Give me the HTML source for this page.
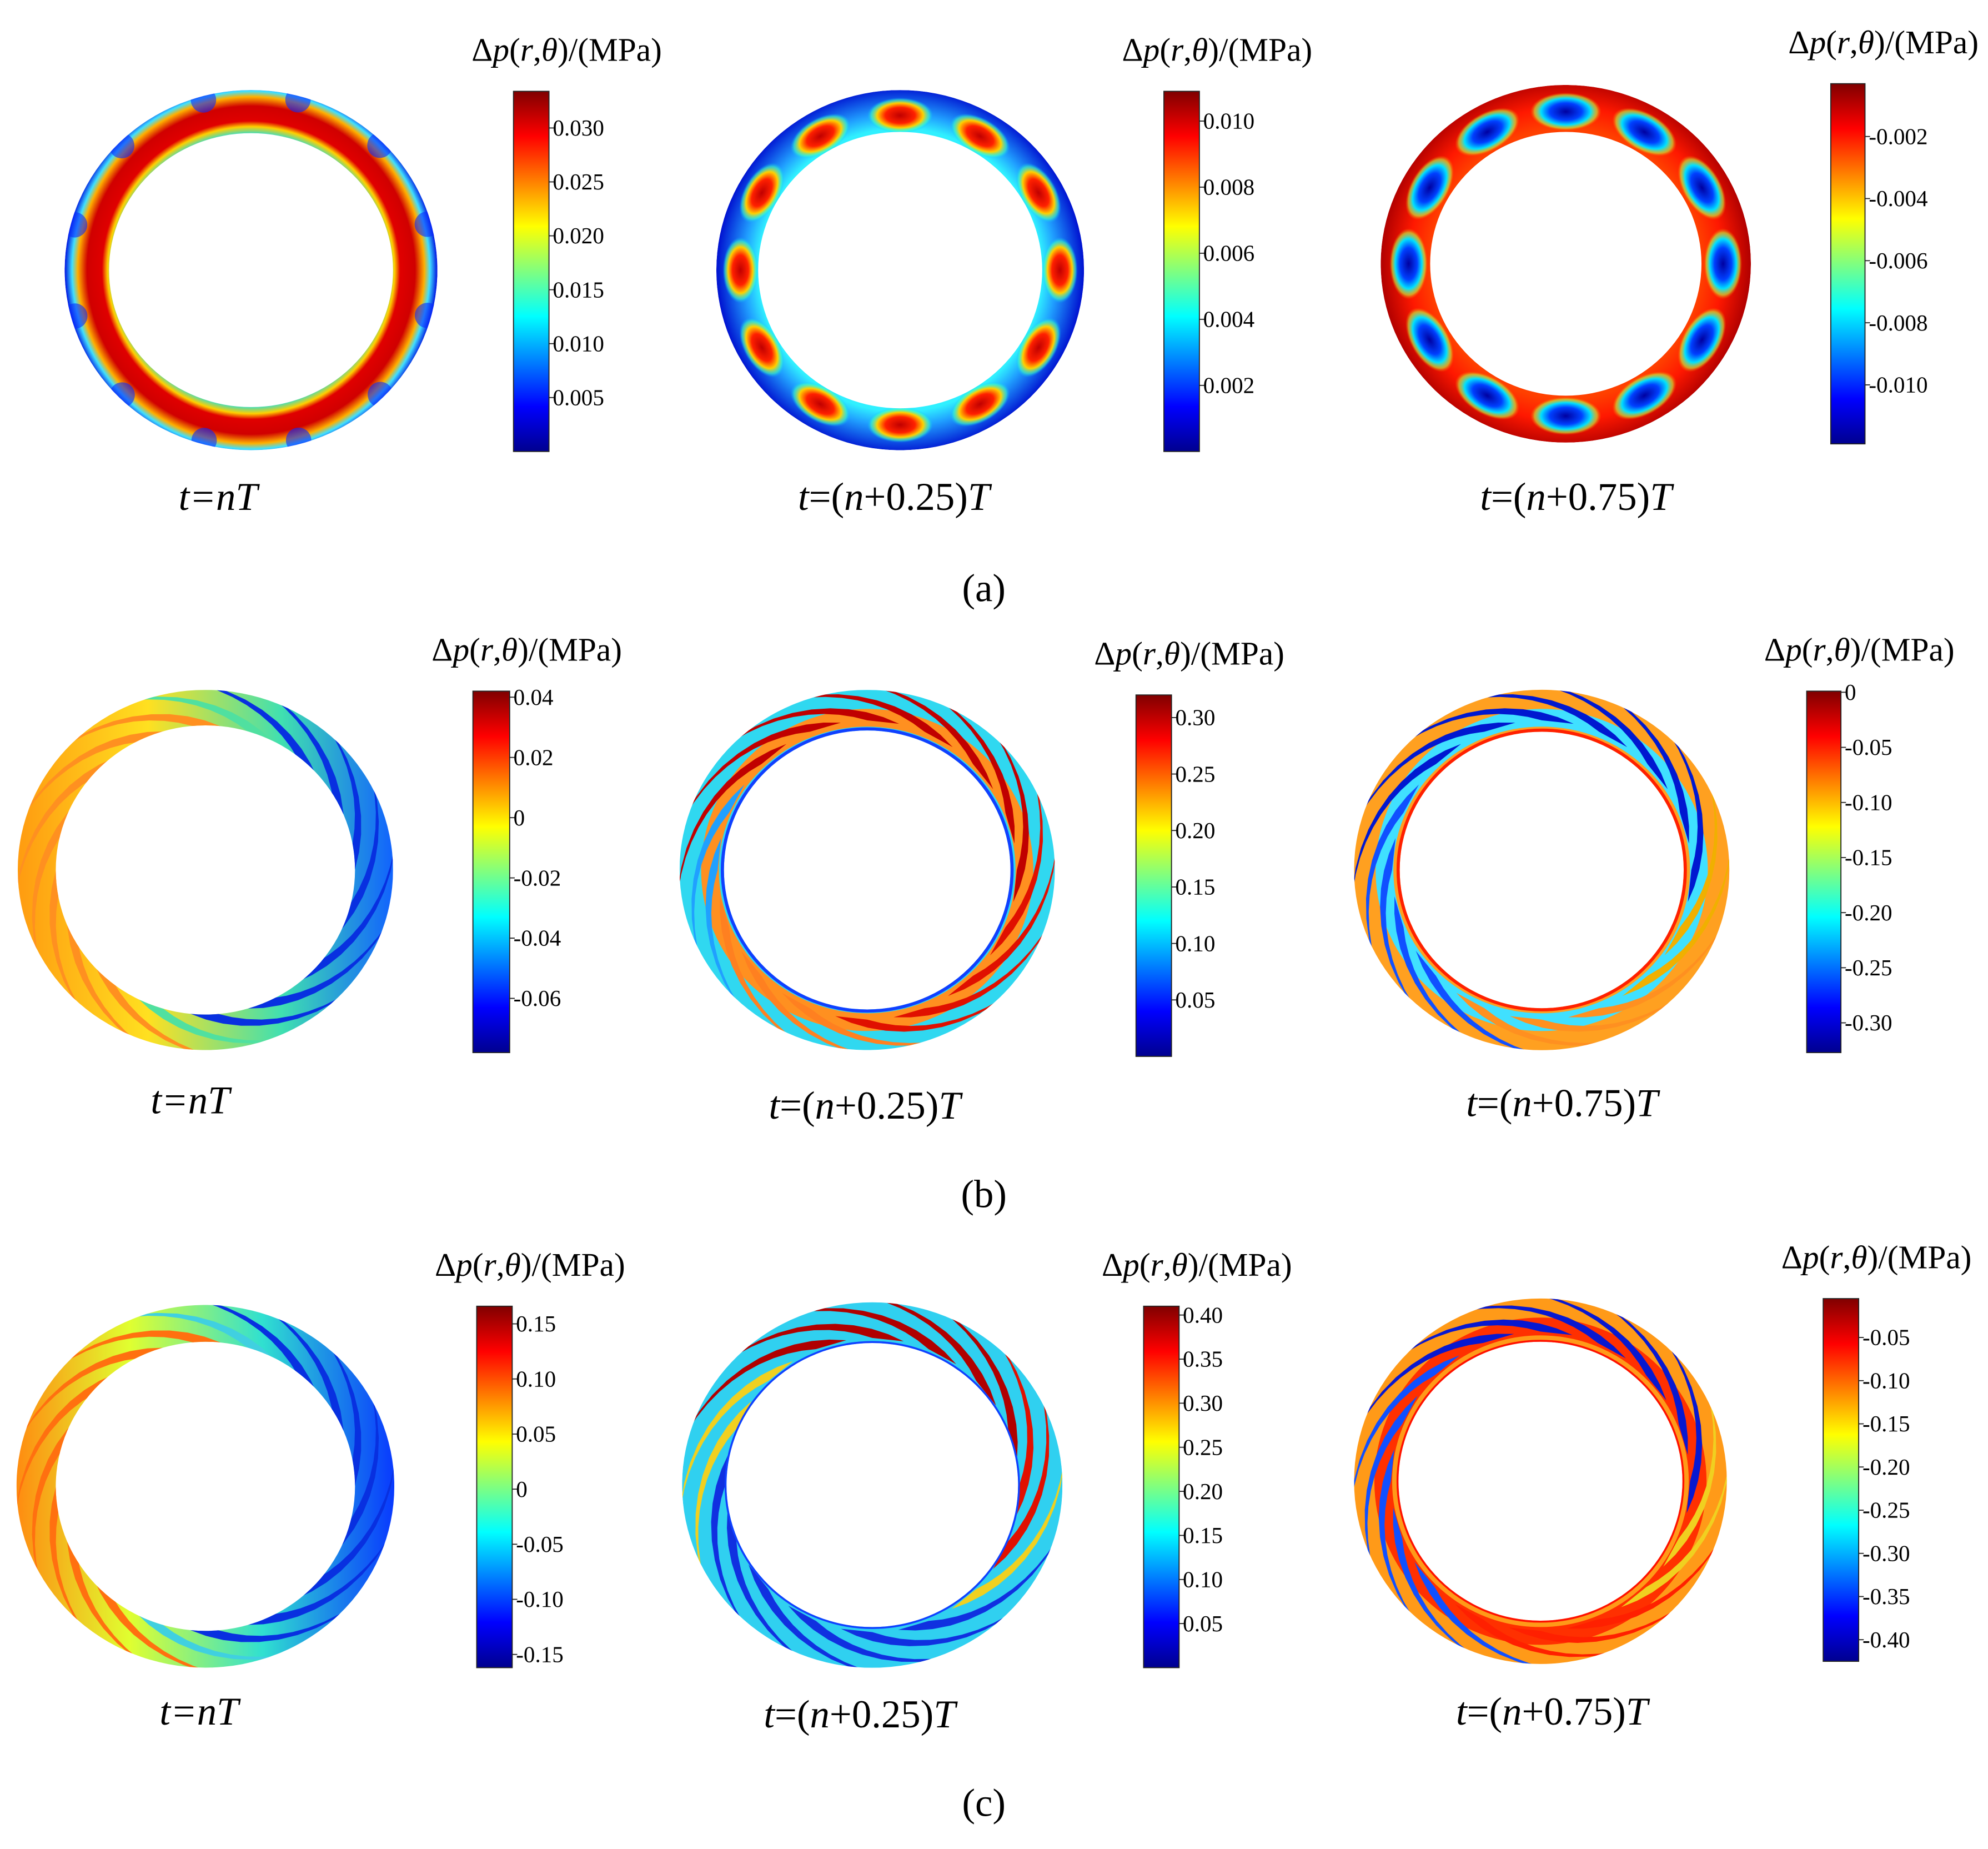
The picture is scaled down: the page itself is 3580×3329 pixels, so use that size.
<!DOCTYPE html>
<html><head><meta charset="utf-8"><style>
html,body{margin:0;padding:0;background:#fff}
svg{display:block}
text{font-family:"Liberation Serif",serif;fill:#000}
</style></head><body>
<svg id="fig" width="3580" height="3329" viewBox="0 0 1568 1458" preserveAspectRatio="none" xmlns="http://www.w3.org/2000/svg">
<defs>
<linearGradient id="jet" x1="0" y1="1" x2="0" y2="0">
<stop offset="0" stop-color="#00008f"/><stop offset="0.125" stop-color="#0000ff"/><stop offset="0.375" stop-color="#00ffff"/><stop offset="0.625" stop-color="#ffff00"/><stop offset="0.875" stop-color="#ff0000"/><stop offset="1" stop-color="#800000"/>
</linearGradient>
<radialGradient id="blobRed"><stop offset="0" stop-color="#c00000"/><stop offset="0.45" stop-color="#ff2000"/><stop offset="0.7" stop-color="#ffd000"/><stop offset="0.88" stop-color="#40ffc0" stop-opacity="0.6"/><stop offset="1" stop-color="#00c0ff" stop-opacity="0"/></radialGradient>
<radialGradient id="blobBlue"><stop offset="0" stop-color="#0000a0"/><stop offset="0.45" stop-color="#0040ff"/><stop offset="0.7" stop-color="#00e0ff"/><stop offset="0.88" stop-color="#c0ff40" stop-opacity="0.6"/><stop offset="1" stop-color="#ff8000" stop-opacity="0"/></radialGradient>
<linearGradient id="b1g" x1="0" y1="0" x2="1" y2="0"><stop offset="0" stop-color="#ff9a10"/><stop offset="0.35" stop-color="#ffe020"/><stop offset="0.7" stop-color="#40e0b0"/><stop offset="1" stop-color="#1060ff"/></linearGradient>
<linearGradient id="c1g" x1="0" y1="0" x2="1" y2="0"><stop offset="0" stop-color="#ff8a10"/><stop offset="0.3" stop-color="#e0ff30"/><stop offset="0.65" stop-color="#30e0d0"/><stop offset="1" stop-color="#0838ff"/></linearGradient>
</defs>
<g id="rings"></g>
<g id="bars"></g>
<g font-size="31">
<text x="172" y="402" text-anchor="middle" font-style="italic">t=nT</text>
<text x="705" y="402" text-anchor="middle"><tspan font-style="italic">t</tspan>=(<tspan font-style="italic">n</tspan>+0.25)<tspan font-style="italic">T</tspan></text>
<text x="1243" y="402" text-anchor="middle"><tspan font-style="italic">t</tspan>=(<tspan font-style="italic">n</tspan>+0.75)<tspan font-style="italic">T</tspan></text>
<text x="776" y="474" text-anchor="middle">(a)</text>
<text x="150" y="878" text-anchor="middle" font-style="italic">t=nT</text>
<text x="682" y="882" text-anchor="middle"><tspan font-style="italic">t</tspan>=(<tspan font-style="italic">n</tspan>+0.25)<tspan font-style="italic">T</tspan></text>
<text x="1232" y="880" text-anchor="middle"><tspan font-style="italic">t</tspan>=(<tspan font-style="italic">n</tspan>+0.75)<tspan font-style="italic">T</tspan></text>
<text x="776" y="952" text-anchor="middle">(b)</text>
<text x="157" y="1360" text-anchor="middle" font-style="italic">t=nT</text>
<text x="678" y="1362" text-anchor="middle"><tspan font-style="italic">t</tspan>=(<tspan font-style="italic">n</tspan>+0.25)<tspan font-style="italic">T</tspan></text>
<text x="1224" y="1360" text-anchor="middle"><tspan font-style="italic">t</tspan>=(<tspan font-style="italic">n</tspan>+0.75)<tspan font-style="italic">T</tspan></text>
<text x="776" y="1432" text-anchor="middle">(c)</text>
</g>
</svg>
<script>
// ---- colorbar data ----
const ticksA1 = ["0.030","0.025","0.020","0.015","0.010","0.005"];
const valsA1 = [0.030,0.025,0.020,0.015,0.010,0.005];
const rangeA1 = [0.0000,0.0334];
const ticksA2 = ["0.010","0.008","0.006","0.004","0.002"];
const valsA2 = [0.010,0.008,0.006,0.004,0.002];
const rangeA2 = [0.0,0.0109];
const ticksA3 = ["-0.002","-0.004","-0.006","-0.008","-0.010"];
const valsA3 = [-0.002,-0.004,-0.006,-0.008,-0.010];
const rangeA3 = [-0.0119,-0.0003];
const ticksB1 = ["0.04","0.02","0","-0.02","-0.04","-0.06"];
const valsB1 = [0.04,0.02,0,-0.02,-0.04,-0.06];
const rangeB1 = [-0.078,0.042];
const ticksB2 = ["0.30","0.25","0.20","0.15","0.10","0.05"];
const valsB2 = [0.30,0.25,0.20,0.15,0.10,0.05];
const rangeB2 = [0.0,0.32];
const ticksB3 = ["0","-0.05","-0.10","-0.15","-0.20","-0.25","-0.30"];
const valsB3 = [0,-0.05,-0.10,-0.15,-0.20,-0.25,-0.30];
const rangeB3 = [-0.327,0.001];
const ticksC1 = ["0.15","0.10","0.05","0","-0.05","-0.10","-0.15"];
const valsC1 = [0.15,0.10,0.05,0,-0.05,-0.10,-0.15];
const rangeC1 = [-0.162,0.166];
const ticksC2 = ["0.40","0.35","0.30","0.25","0.20","0.15","0.10","0.05"];
const valsC2 = [0.40,0.35,0.30,0.25,0.20,0.15,0.10,0.05];
const rangeC2 = [0.0,0.41];
const ticksC3 = ["-0.05","-0.10","-0.15","-0.20","-0.25","-0.30","-0.35","-0.40"];
const valsC3 = [-0.05,-0.10,-0.15,-0.20,-0.25,-0.30,-0.35,-0.40];
const rangeC3 = [-0.425,-0.005];

const NS="http://www.w3.org/2000/svg";
function mk(tag,attrs,parent){const e=document.createElementNS(NS,tag);for(const k in attrs)e.setAttribute(k,attrs[k]);parent.appendChild(e);return e;}
const bars=document.getElementById('bars');
function colorbar(id,x,y0,y1,w,ticks,vals,range){
  const g=mk('g',{},bars);
  
  
  const r=mk('rect',{x:x,y:y0,width:w,height:y1-y0,fill:'url(#jet)',stroke:'#222','stroke-width':0.8},g);
  
  
  const ys=v=>y1-(v-range[0])/(range[1]-range[0])*(y1-y0);
  const t=mk('text',{x:x+w/2+28,y:y0-24,'text-anchor':'middle','font-size':26},g);
  
  
  t.innerHTML='Δ<tspan font-style="italic">p</tspan>(<tspan font-style="italic">r</tspan>,<tspan font-style="italic">θ</tspan>)/(MPa)';
  vals.forEach((v,i)=>{
    const y=ys(v);
    mk('line',{x1:x+w,x2:x+w+4,y1:y,y2:y,stroke:'#222','stroke-width':0.8},g);
    const tx=mk('text',{x:x+w+3,y:y+6,'font-size':18},g);
    
    
    tx.textContent=ticks[i];
  });
}
colorbar('a1',405,72,356,28,ticksA1,valsA1,rangeA1);
colorbar('a2',918,72,356,28,ticksA2,valsA2,rangeA2);
colorbar('a3',1444,66,350,27,ticksA3,valsA3,rangeA3);
colorbar('b1',373,545,830,29,ticksB1,valsB1,rangeB1);
colorbar('b2',896,548,833,28,ticksB2,valsB2,rangeB2);
colorbar('b3',1425,545,830,27,ticksB3,valsB3,rangeB3);
colorbar('c1',376,1030,1315,28,ticksC1,valsC1,rangeC1);
colorbar('c2',902,1030,1315,28,ticksC2,valsC2,rangeC2);
colorbar('c3',1438,1024,1310,28,ticksC3,valsC3,rangeC3);

// ---- rings ----
const rings=document.getElementById('rings');
let cid=0;
function annPath(cx,cy,ro,rro,ri,rri){
  return `M${cx-ro},${cy}a${ro},${rro} 0 1,0 ${2*ro},0a${ro},${rro} 0 1,0 ${-2*ro},0Z M${cx-ri},${cy}a${ri},${rri} 0 1,1 ${2*ri},0a${ri},${rri} 0 1,1 ${-2*ri},0Z`;
}
function ring(name,cx,cy,ro,rro,ri,rri){
  const g=mk('g',{},rings);
  
  
  const id='clip'+(cid++);
  const cp=mk('clipPath',{id:id},g);
  mk('path',{d:annPath(cx,cy,ro,rro,ri,rri),'fill-rule':'evenodd'},cp);
  const inner=mk('g',{'clip-path':`url(#${id})`},g);
  return inner;
}
// (a1)
{const cx=198,cy=213,g=ring('ring-a1',cx,cy,147,142,112,108);
 const rg=mk('radialGradient',{id:'ra1',cx:cx,cy:cy,r:147,gradientUnits:'userSpaceOnUse'},g);
 [[0.72,'#00e0ff'],[0.77,'#ffd000'],[0.8,'#e00000'],[0.88,'#d00000'],[0.93,'#ffb000'],[0.96,'#40e0ff'],[1,'#0010e0']].forEach(s=>mk('stop',{offset:s[0],'stop-color':s[1]},rg));
 mk('ellipse',{cx:cx,cy:cy,rx:147,ry:142,fill:'url(#ra1)'},g);
 for(let i=0;i<12;i++){const a=i*Math.PI/6+0.26;mk('ellipse',{cx:cx+144*Math.cos(a),cy:cy+139*Math.sin(a),rx:10,ry:10,fill:'#0828ff',opacity:0.6},g);}
}
// (a2)
{const cx=710,cy=213,g=ring('ring-a2',cx,cy,145,142,112,109);
 const rg=mk('radialGradient',{id:'ra2',cx:cx,cy:cy,r:145,gradientUnits:'userSpaceOnUse'},g);
 [[0.77,'#30f0ff'],[0.85,'#20a0ff'],[1,'#0010d0']].forEach(s=>mk('stop',{offset:s[0],'stop-color':s[1]},rg));
 mk('ellipse',{cx:cx,cy:cy,rx:145,ry:142,fill:'url(#ra2)'},g);
 for(let i=0;i<12;i++){const a=i*Math.PI/6-Math.PI/2;const x=cx+126*Math.cos(a),y=cy+122*Math.sin(a);
  mk('ellipse',{cx:0,cy:0,rx:14,ry:26,fill:'url(#blobRed)',transform:`translate(${x},${y}) rotate(${a*180/Math.PI})`},g);}
}
// (a3)
{const cx=1235,cy=208,g=ring('ring-a3',cx,cy,146,141,107,104);
 const rg=mk('radialGradient',{id:'ra3',cx:cx,cy:cy,r:146,gradientUnits:'userSpaceOnUse'},g);
 [[0.73,'#ff4000'],[0.85,'#ff1800'],[1,'#b00000']].forEach(s=>mk('stop',{offset:s[0],'stop-color':s[1]},rg));
 mk('ellipse',{cx:cx,cy:cy,rx:146,ry:141,fill:'url(#ra3)'},g);
 for(let i=0;i<12;i++){const a=i*Math.PI/6-Math.PI/2;const x=cx+124*Math.cos(a),y=cy+120*Math.sin(a);
  mk('ellipse',{cx:0,cy:0,rx:15,ry:28,fill:'url(#blobBlue)',transform:`translate(${x},${y}) rotate(${a*180/Math.PI})`},g);}
}
// blades
function blades(g,cx,cy,ri,ro,n,sweep,colorFn){
  for(let i=0;i<n;i++){
    const a0=i*2*Math.PI/n;const pts=[],pts2=[];
    for(let k=0;k<=10;k++){const t=k/10;const r=ri+(ro-ri)*t;const a=a0+sweep*t;const w=0.2*(1-t)+0.015;
      pts.push([cx+r*Math.cos(a),cy+r*Math.sin(a)]);pts2.push([cx+r*Math.cos(a+w),cy+r*Math.sin(a+w)]);}
    const d='M'+pts.map(p=>p.join(',')).join('L')+'L'+pts2.reverse().map(p=>p.join(',')).join('L')+'Z';
    const p=mk('path',{d:d,fill:colorFn(a0+sweep/2)},g);
    
    
  }
}
// (b1)
{const cx=162,cy=686,g=ring('ring-b1',cx,cy,148,142,118,114);
 mk('rect',{x:cx-150,y:cy-150,width:300,height:300,fill:'url(#b1g)'},g);
 blades(g,cx,cy,110,150,16,-0.9,a=>{const c=Math.cos(a);return c>0.3?'#0830e0':c>-0.2?'#50e0a0':'#ff9020';});}
// (b2)
{const cx=684,cy=686,g=ring('ring-b2',cx,cy,148,142,113,110);
 mk('ellipse',{cx:cx,cy:cy,rx:150,ry:150,fill:'#30d8f0'},g);
 mk('ellipse',{cx:cx,cy:cy,rx:124,ry:120,fill:'none',stroke:'#ff9020','stroke-width':14},g);
 blades(g,cx,cy,118,150,16,-0.9,a=>{const s=Math.sin(a),c=Math.cos(a);return s<-0.3?'#c00000':c>0.3?'#e01000':s>0.5?'#ff8020':'#20a0ff';});
 mk('ellipse',{cx:cx,cy:cy,rx:114,ry:111,fill:'none',stroke:'#1040ff','stroke-width':3},g);}
// (b3)
{const cx=1216,cy=686,g=ring('ring-b3',cx,cy,148,142,112,109);
 mk('ellipse',{cx:cx,cy:cy,rx:150,ry:150,fill:'#ffa020'},g);
 mk('ellipse',{cx:cx,cy:cy,rx:124,ry:120,fill:'none',stroke:'#40e0ff','stroke-width':14},g);
 blades(g,cx,cy,118,150,16,-0.9,a=>{const s=Math.sin(a),c=Math.cos(a);return s<-0.3?'#0018d0':c<-0.3?'#1050ff':s>0.5?'#ff9020':'#f0b000';});
 mk('ellipse',{cx:cx,cy:cy,rx:113,ry:110,fill:'none',stroke:'#ff2000','stroke-width':3},g);}
// (c1)
{const cx=162,cy=1172,g=ring('ring-c1',cx,cy,149,143,118,114);
 mk('rect',{x:cx-150,y:cy-150,width:300,height:300,fill:'url(#c1g)'},g);
 blades(g,cx,cy,110,150,16,-0.9,a=>{const c=Math.cos(a);return c>0.3?'#0830e0':c>-0.2?'#40d0e0':'#ff7010';});}
// (c2)
{const cx=688,cy=1171,g=ring('ring-c2',cx,cy,150,144,115,112);
 mk('ellipse',{cx:cx,cy:cy,rx:150,ry:150,fill:'#30d0f0'},g);
 blades(g,cx,cy,116,152,16,-0.9,a=>{const s=Math.sin(a),c=Math.cos(a);return s<-0.5?'#b00000':c>0.3&&s<0.3?'#e01000':s>0.4?'#1030e0':'#f0d020';});
 mk('ellipse',{cx:cx,cy:cy,rx:115,ry:112,fill:'none',stroke:'#1040ff','stroke-width':3},g);}
// (c3)
{const cx=1215,cy=1168,g=ring('ring-c3',cx,cy,147,144,112,110);
 mk('ellipse',{cx:cx,cy:cy,rx:150,ry:150,fill:'#ff9a18'},g);
 mk('ellipse',{cx:cx,cy:cy,rx:124,ry:122,fill:'none',stroke:'#ff3000','stroke-width':14},g);
 blades(g,cx,cy,118,150,16,-0.9,a=>{const s=Math.sin(a),c=Math.cos(a);return s<-0.4?'#0818d0':c<-0.3?'#1050ff':s>0.5?'#ff2000':'#f0d020';});
 mk('ellipse',{cx:cx,cy:cy,rx:112,ry:110,fill:'none',stroke:'#ff1000','stroke-width':3},g);}
</script>
</body></html>
